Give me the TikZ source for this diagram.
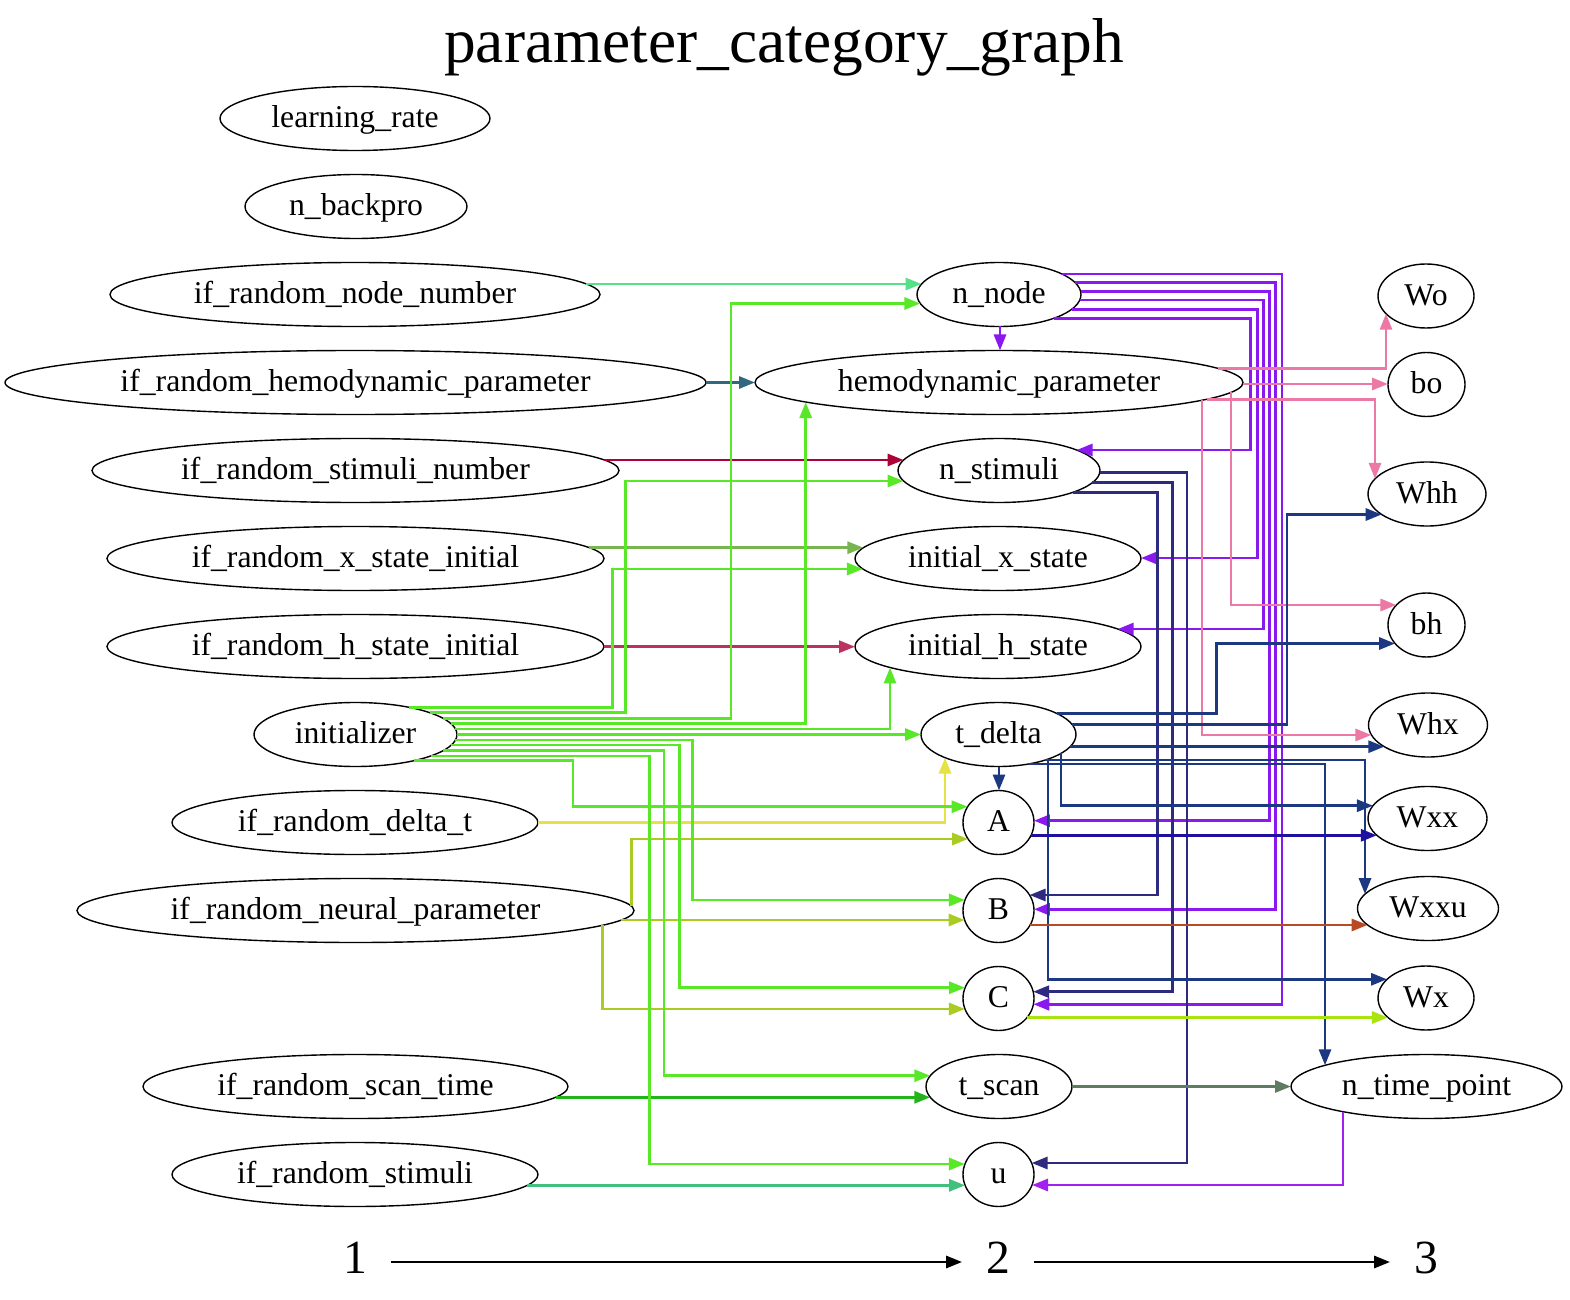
\documentclass[tikz,border=0pt]{standalone}
\usepackage{fontspec}
\setmainfont{Liberation Serif}
\usetikzlibrary{shapes.geometric,arrows.meta,calc}
\newcommand\nodefont{\fontsize{15.85}{19}\selectfont}
\newcommand\titlefont{\fontsize{31.7}{38}\selectfont}
\newcommand\legfont{\fontsize{23.8}{28}\selectfont}
\definecolor{cG}{RGB}{88,232,40}
\definecolor{cLG}{RGB}{88,224,136}
\definecolor{cTeal}{RGB}{48,104,128}
\definecolor{cCrim}{RGB}{176,0,56}
\definecolor{cXS}{RGB}{120,180,80}
\definecolor{cHS}{RGB}{190,48,96}
\definecolor{cYel}{RGB}{230,226,70}
\definecolor{cNP}{RGB}{170,204,34}
\definecolor{cST}{RGB}{34,180,26}
\definecolor{cSTIM}{RGB}{64,192,124}
\definecolor{cPur}{RGB}{140,24,240}
\definecolor{cPink}{RGB}{236,120,166}
\definecolor{cNavy}{RGB}{46,42,128}
\definecolor{cBlue}{RGB}{28,56,128}
\definecolor{cIndigo}{RGB}{32,16,160}
\definecolor{cBrown}{RGB}{184,74,36}
\definecolor{cLime}{RGB}{170,228,16}
\definecolor{cGray}{RGB}{96,124,96}
\definecolor{cPurB}{RGB}{164,32,240}
\makeatletter
\newdimen\eb@cx \newdimen\eb@cy \newdimen\eb@a \newdimen\eb@b \newdimen\eb@rx \newdimen\eb@ry
\def\eb@none{none}
\pgfkeys{/eb/.is family,
  /eb/n/.store in=\eb@n,
  /eb/h/.store in=\eb@h,
  /eb/v/.store in=\eb@v,
  /eb/s/.store in=\eb@s}
% border point of an ellipse node: h = absolute pixel row of a horizontal line (s=1 east, s=-1 west)
% v = absolute pixel column of a vertical line (s=1 top, s=-1 bottom)
\tikzdeclarecoordinatesystem{eb}{%
  \def\eb@h{none}\def\eb@v{none}\def\eb@s{1}%
  \pgfkeys{/eb/.cd,#1}%
  \pgfpointanchor{\eb@n}{center}\eb@cx=\pgf@x \eb@cy=\pgf@y
  \pgfpointanchor{\eb@n}{east}\eb@a=\pgf@x \advance\eb@a by -\eb@cx
  \pgfpointanchor{\eb@n}{north}\eb@b=\pgf@y \advance\eb@b by -\eb@cy
  \ifx\eb@h\eb@none
    \pgfmathsetlength\eb@rx{0.5*(\eb@v)}%
    \pgfmathsetlength\eb@ry{\eb@cy+(\eb@s)*\eb@b*sqrt(max(0,1-((\eb@rx-\eb@cx)/\eb@a)^2))}%
  \else
    \pgfmathsetlength\eb@ry{-0.5*(\eb@h)}%
    \pgfmathsetlength\eb@rx{\eb@cx+(\eb@s)*\eb@a*sqrt(max(0,1-((\eb@ry-\eb@cy)/\eb@b)^2))}%
  \fi
  \pgfpoint{\eb@rx}{\eb@ry}%
}
\makeatother
\tikzset{
  ell/.style={ellipse, draw=black, line width=0.7pt, inner sep=0pt, outer sep=0pt,
    minimum height=32pt, font=\nodefont, text=black, text height=12.2pt, text depth=3pt},
  conn/.style={line width=1.45pt, -{Triangle[length=8pt,width=6pt]}},
  legnum/.style={inner sep=12pt, outer sep=0pt, font=\legfont, text=black},
}
\begin{document}
\begin{tikzpicture}[x=0.5pt,y=-0.5pt]
\useasboundingbox (0,0) rectangle (1570,1300);
\fill[white] (0,0) rectangle (1570,1300);
\node[font=\titlefont, anchor=base, inner sep=0pt] (title) at (784,63) {parameter\_category\_graph};
% column 1
\node[ell, minimum width=135pt] (lr) at (355,118.5) {learning\_rate};
\node[ell, minimum width=111pt] (nb) at (356,206.5) {n\_backpro};
\node[ell, minimum width=245pt] (irnn) at (355,294.5) {if\_random\_node\_number};
\node[ell, minimum width=350.5pt] (irhp) at (355.5,382.5) {if\_random\_hemodynamic\_parameter};
\node[ell, minimum width=263.5pt] (irsn) at (355.5,470.5) {if\_random\_stimuli\_number};
\node[ell, minimum width=248.5pt] (irxs) at (355.5,558.5) {if\_random\_x\_state\_initial};
\node[ell, minimum width=248.5pt] (irhs) at (355.5,646.5) {if\_random\_h\_state\_initial};
\node[ell, minimum width=101.5pt] (init) at (355.5,734.5) {initializer};
\node[ell, minimum width=183pt] (irdt) at (355,822.5) {if\_random\_delta\_t};
\node[ell, minimum width=278.5pt] (irnp) at (355.5,910.5) {if\_random\_neural\_parameter};
\node[ell, minimum width=212.5pt] (irst) at (355.5,1086.5) {if\_random\_scan\_time};
\node[ell, minimum width=183pt] (irs) at (355,1174.5) {if\_random\_stimuli};
% column 2
\node[ell, minimum width=82pt] (nnode) at (999,294.5) {n\_node};
\node[ell, minimum width=244pt] (hemo) at (999,382.5) {hemodynamic\_parameter};
\node[ell, minimum width=101pt] (nstim) at (999,470.5) {n\_stimuli};
\node[ell, minimum width=143pt] (initx) at (998,558.5) {initial\_x\_state};
\node[ell, minimum width=143pt] (inith) at (998,646.5) {initial\_h\_state};
\node[ell, minimum width=77.5pt] (tdelta) at (998.5,734.5) {t\_delta};
\node[ell, minimum width=35.5pt] (A) at (998.5,822.5) {A};
\node[ell, minimum width=35.5pt] (B) at (998.5,910.5) {B};
\node[ell, minimum width=35.5pt] (C) at (998.5,998.5) {C};
\node[ell, minimum width=73pt] (tscan) at (999,1086.5) {t\_scan};
\node[ell, minimum width=35.5pt] (u) at (998.5,1174.5) {u};
% column 3
\node[ell, minimum width=48pt] (Wo) at (1426,296) {Wo};
\node[ell, minimum width=38.5pt] (bo) at (1426.5,384.5) {bo};
\node[ell, minimum width=59pt] (Whh) at (1427,494) {Whh};
\node[ell, minimum width=38.5pt] (bh) at (1426.5,625) {bh};
\node[ell, minimum width=59.5pt] (Whx) at (1428,725) {Whx};
\node[ell, minimum width=59.5pt] (Wxx) at (1427.5,818.5) {Wxx};
\node[ell, minimum width=70.5pt] (Wxxu) at (1428,908.5) {Wxxu};
\node[ell, minimum width=48pt] (Wx) at (1426,998) {Wx};
\node[ell, minimum width=135.5pt] (ntp) at (1426.5,1086.5) {n\_time\_point};
% legend
\node[legnum] (l1) at (355,1258) {1};
\node[legnum] (l2) at (998,1258) {2};
\node[legnum] (l3) at (1426,1258) {3};
\draw[conn,black] ([yshift=-2pt]l1.east) -- ([yshift=-2pt]l2.west);
\draw[conn,black] ([yshift=-2pt]l2.east) -- ([yshift=-2pt]l3.west);
% column 1 -> column 2
\draw[conn,cLG] (eb cs:n=irnn,h=284) -- (eb cs:n=nnode,h=284,s=-1);
\draw[conn,cTeal] (eb cs:n=irhp,h=382.5) -- (eb cs:n=hemo,h=382.5,s=-1);
\draw[conn,cCrim] (eb cs:n=irsn,h=460) -- (eb cs:n=nstim,h=460,s=-1);
\draw[conn,cXS] (eb cs:n=irxs,h=547.7) -- (eb cs:n=initx,h=547.7,s=-1);
\draw[conn,cHS] (eb cs:n=irhs,h=646.7) -- (eb cs:n=inith,h=646.7,s=-1);
\draw[conn,cYel] (eb cs:n=irdt,h=822.3) -| (eb cs:n=tdelta,v=945,s=-1);
\draw[conn,cNP] (eb cs:n=irnp,v=631.5) |- (eb cs:n=A,h=839,s=-1);
\draw[conn,cNP] (eb cs:n=irnp,h=920) -- (eb cs:n=B,h=920,s=-1);
\draw[conn,cNP] (eb cs:n=irnp,v=602.8,s=-1) |- (eb cs:n=C,h=1009,s=-1);
\draw[conn,cST] (eb cs:n=irst,h=1097.3) -- (eb cs:n=tscan,h=1097.3,s=-1);
\draw[conn,cSTIM] (eb cs:n=irs,h=1185.3) -- (eb cs:n=u,h=1185.3,s=-1);
% initializer
\draw[conn,cG] (eb cs:n=init,h=707.3) -| (612.3,569) -- (eb cs:n=initx,h=569,s=-1);
\draw[conn,cG] (eb cs:n=init,h=712.7) -| (625.8,481) -- (eb cs:n=nstim,h=481,s=-1);
\draw[conn,cG] (eb cs:n=init,h=718.3) -| (731,303.5) -- (eb cs:n=nnode,h=303.5,s=-1);
\draw[conn,cG] (eb cs:n=init,h=723.3) -| (eb cs:n=hemo,v=805.7,s=-1);
\draw[conn,cG] (eb cs:n=init,h=729) -| (eb cs:n=inith,v=890,s=-1);
\draw[conn,cG] (eb cs:n=init,h=734.5) -- (eb cs:n=tdelta,h=734.5,s=-1);
\draw[conn,cG] (eb cs:n=init,h=740) -| (692.8,900) -- (eb cs:n=B,h=900,s=-1);
\draw[conn,cG] (eb cs:n=init,h=745) -| (679.4,987.7) -- (eb cs:n=C,h=987.7,s=-1);
\draw[conn,cG] (eb cs:n=init,h=750.7) -| (664,1075.7) -- (eb cs:n=tscan,h=1075.7,s=-1);
\draw[conn,cG] (eb cs:n=init,h=756) -| (649.4,1164) -- (eb cs:n=u,h=1164,s=-1);
\draw[conn,cG] (eb cs:n=init,h=760.7) -| (573,806.7) -- (eb cs:n=A,h=806.7,s=-1);
% n_node
\draw[conn,cPur] (eb cs:n=nnode,v=1000,s=-1) -- (eb cs:n=hemo,v=1000);
\draw[conn,cPur] (eb cs:n=nnode,h=318.3) -| (1250.7,450) -- (eb cs:n=nstim,h=450);
\draw[conn,cPur] (eb cs:n=nnode,h=309.3) -| (1257.3,558) -- (eb cs:n=initx,h=558);
\draw[conn,cPur] (eb cs:n=nnode,h=300) -| (1263.3,629) -- (eb cs:n=inith,h=629);
\draw[conn,cPur] (eb cs:n=nnode,h=291.7) -| (1269.3,820.7) -- (eb cs:n=A,h=820.7);
\draw[conn,cPur] (eb cs:n=nnode,h=282.7) -| (1275.7,909.3) -- (eb cs:n=B,h=909.3);
\draw[conn,cPur] (eb cs:n=nnode,h=274) -| (1282,1004.3) -- (eb cs:n=C,h=1004.3);
% hemodynamic_parameter
\draw[conn,cPink] (eb cs:n=hemo,h=368.3) -| (eb cs:n=Wo,v=1386,s=-1);
\draw[conn,cPink] (eb cs:n=hemo,h=384) -- (eb cs:n=bo,h=384,s=-1);
\draw[conn,cPink] (eb cs:n=hemo,h=399.3) -| (eb cs:n=Whh,v=1375);
\draw[conn,cPink] (eb cs:n=hemo,v=1231,s=-1) |- (eb cs:n=bh,h=605,s=-1);
\draw[conn,cPink] (eb cs:n=hemo,v=1202,s=-1) |- (eb cs:n=Whx,h=735,s=-1);
% n_stimuli
\draw[conn,cNavy] (eb cs:n=nstim,h=472.3) -| (1187,1163) -- (eb cs:n=u,h=1163);
\draw[conn,cNavy] (eb cs:n=nstim,h=482.7) -| (1172.5,991.7) -- (eb cs:n=C,h=991.7);
\draw[conn,cNavy] (eb cs:n=nstim,h=492.3) -| (1157.3,895) -- (eb cs:n=B,h=895);
% t_delta
\draw[conn,cBlue] (eb cs:n=tdelta,v=999,s=-1) -- (eb cs:n=A,v=999);
\draw[conn,cBlue] (eb cs:n=tdelta,h=713.3) -| (1216.7,643.5) -- (eb cs:n=bh,h=643.5,s=-1);
\draw[conn,cBlue] (eb cs:n=tdelta,h=724.3) -| (1287,514.5) -- (eb cs:n=Whh,h=514.5,s=-1);
\draw[conn,cBlue] (eb cs:n=tdelta,h=746.7) -- (eb cs:n=Whx,h=746.7,s=-1);
\draw[conn,cBlue] (eb cs:n=tdelta,h=760) -| (eb cs:n=Wxxu,v=1365);
\draw[conn,cBlue] (eb cs:n=tdelta,h=764) -| (eb cs:n=ntp,v=1325);
\draw[conn,cBlue] (eb cs:n=tdelta,v=1061,s=-1) |- (eb cs:n=Wxx,h=805.7,s=-1);
\draw[conn,cBlue] (eb cs:n=tdelta,v=1048,s=-1) |- (eb cs:n=Wx,h=979.3,s=-1);
% rest
\draw[conn,cIndigo] (eb cs:n=A,h=835.3) -- (eb cs:n=Wxx,h=835.3,s=-1);
\draw[conn,cBrown] (eb cs:n=B,h=925) -- (eb cs:n=Wxxu,h=925,s=-1);
\draw[conn,cLime] (eb cs:n=C,h=1017.5) -- (eb cs:n=Wx,h=1017.5,s=-1);
\draw[conn,cGray] (eb cs:n=tscan,h=1086.5) -- (eb cs:n=ntp,h=1086.5,s=-1);
\draw[conn,cPurB] (eb cs:n=ntp,v=1343,s=-1) |- (eb cs:n=u,h=1185);
\end{tikzpicture}
\end{document}
